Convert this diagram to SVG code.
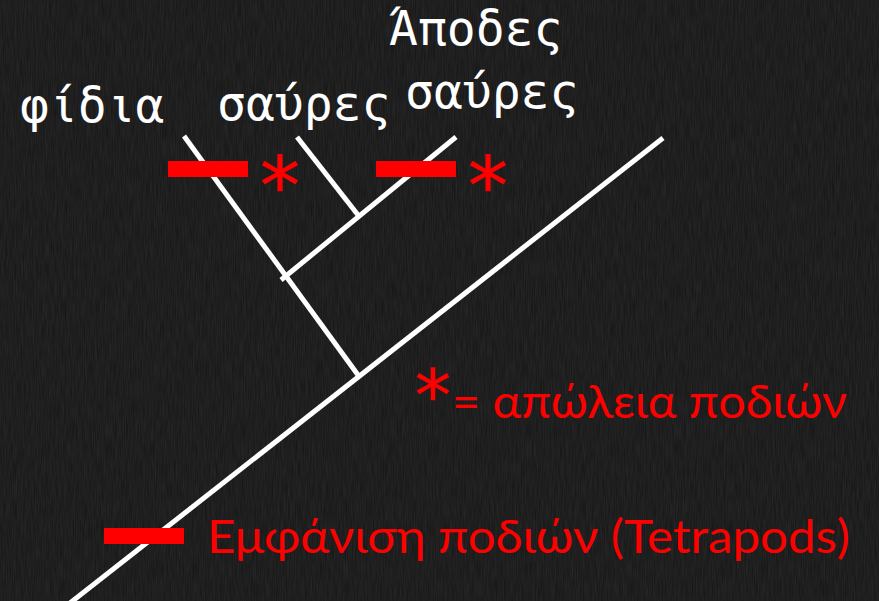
<svg xmlns="http://www.w3.org/2000/svg" width="879" height="601" viewBox="0 0 879 601">
<defs>
<style>
.br{stroke:#fff;stroke-width:5;stroke-linecap:butt;fill:none}
.lbl{font-family:"DejaVu Sans Mono","Liberation Mono",monospace;font-size:48px;fill:#fff}
.leg{font-family:Lato,"Open Sans",sans-serif;font-size:46px;fill:#ff0000}
.ast{font-family:"DejaVu Sans",sans-serif;font-size:80px;fill:#ff0000;stroke:#ff0000;stroke-width:0.6}
.bar{fill:#ff0000}
</style>
<filter id="chalk" x="0" y="0" width="100%" height="100%">
<feTurbulence type="fractalNoise" baseFrequency="0.9 0.05" numOctaves="2" seed="3" result="n"/>
<feColorMatrix type="matrix" values="0 0 0 0 1  0 0 0 0 1  0 0 0 0 1  0 0 0 0.09 0"/>
</filter>
</defs>
<rect width="879" height="601" fill="#141414"/>
<rect width="879" height="601" filter="url(#chalk)"/>
<g id="connectors">
<line class="br" x1="70" y1="603" x2="663" y2="138"/>
<line class="br" x1="358" y1="375" x2="184" y2="136"/>
<line class="br" x1="281" y1="280" x2="456" y2="137"/>
<line class="br" x1="358" y1="215" x2="297" y2="137"/>
</g>
<g id="label-fidia"><text class="lbl" x="20" y="122">φίδια</text></g>
<g id="label-saures"><text class="lbl" x="217" y="120">σαύρες</text></g>
<g id="label-apodes"><text class="lbl" x="389" y="45">Άποδες</text><text class="lbl" x="405" y="108">σαύρες</text></g>
<g id="marker-1"><rect class="bar" x="168" y="161" width="80" height="16"/><text class="ast" x="280" y="214" text-anchor="middle">*</text></g>
<g id="marker-2"><rect class="bar" x="376" y="161" width="80" height="16"/><text class="ast" x="488" y="214" text-anchor="middle">*</text></g>
<g id="legend-loss"><text class="ast" x="433" y="420" text-anchor="middle" style="font-size:72px">*</text><text class="leg" x="452" y="418" textLength="395" lengthAdjust="spacingAndGlyphs">= απώλεια ποδιών</text></g>
<g id="legend-gain"><rect class="bar" x="104" y="528" width="80" height="16"/><text class="leg" x="207" y="553" textLength="643" lengthAdjust="spacingAndGlyphs">Εμφάνιση ποδιών (Tetrapods)</text></g>
</svg>
